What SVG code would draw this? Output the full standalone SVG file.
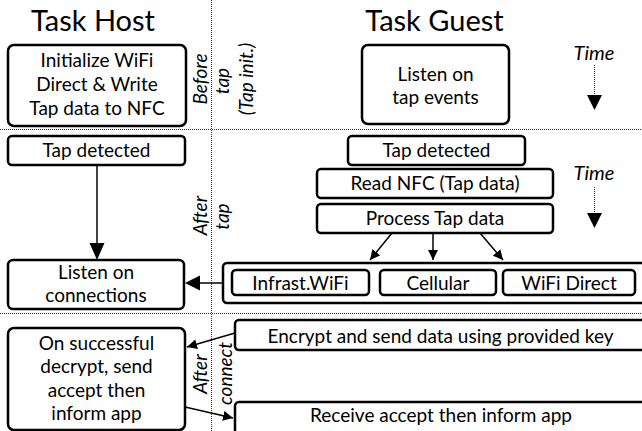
<svg xmlns="http://www.w3.org/2000/svg" width="642" height="431" viewBox="0 0 642 431">
  <style>
    .box { fill: #ffffff; stroke: #000000; stroke-width: 2.5; }
    .lbl { font-family: Lato, "Liberation Sans", sans-serif; font-size: 19px; fill: #000000; text-anchor: middle; }
    .title { font-family: Lato, "Liberation Sans", sans-serif; font-size: 29px; fill: #000000; text-anchor: middle; }
    .phase { font-family: Lato, "Liberation Sans", sans-serif; font-size: 19px; font-style: italic; fill: #000000; text-anchor: middle; }
    .time { font-family: Lato, "Liberation Sans", sans-serif; font-size: 20px; font-style: italic; fill: #000000; text-anchor: middle; }
    .sep { stroke: #333333; stroke-width: 1; stroke-dasharray: 1 1; fill: none; }
    .wire { stroke: #000000; stroke-width: 1.5; fill: none; }
    .head { fill: #000000; }
  </style>
  <defs>
    <marker id="arrow" viewBox="0 0 10 10" refX="10" refY="5" markerWidth="10" markerHeight="10" markerUnits="userSpaceOnUse" orient="auto">
      <path d="M0,0 L10,5 L0,10 Z" fill="#000000"/>
    </marker>
  </defs>
  <rect width="642" height="431" fill="#ffffff"/>

  <!-- phase separators -->
  <g id="separators">
    <line class="sep" x1="211.5" y1="0" x2="211.5" y2="431"/>
    <line class="sep" x1="0" y1="129.5" x2="642" y2="129.5"/>
    <line class="sep" x1="0" y1="313.5" x2="642" y2="313.5"/>
  </g>

  <!-- column headings -->
  <g id="titles">
    <text class="title" x="93" y="31">Task Host</text>
    <text class="title" x="434.5" y="31">Task Guest</text>
  </g>

  <!-- phase labels -->
  <g id="phase-before">
    <text class="phase" transform="translate(207,79) rotate(-90)">Before</text>
    <text class="phase" transform="translate(229,81) rotate(-90)">tap</text>
    <text class="phase" transform="translate(253,79) rotate(-90)">(Tap init.)</text>
  </g>
  <g id="phase-after-tap">
    <text class="phase" transform="translate(207,215.5) rotate(-90)">After</text>
    <text class="phase" transform="translate(229,216.5) rotate(-90)">tap</text>
  </g>
  <g id="phase-after-connect">
    <text class="phase" transform="translate(207,374) rotate(-90)">After</text>
    <text class="phase" transform="translate(232,373.5) rotate(-90)">connect</text>
  </g>

  <!-- time indicators -->
  <g id="time-1">
    <text class="time" x="594" y="60">Time</text>
    <line class="sep" x1="594.5" y1="65" x2="594.5" y2="95"/>
    <path class="head" d="M587,95 L602,95 L594.5,110 Z"/>
  </g>
  <g id="time-2">
    <text class="time" x="594" y="180">Time</text>
    <line class="sep" x1="594.5" y1="187" x2="594.5" y2="213"/>
    <path class="head" d="M587,213 L602,213 L594.5,228 Z"/>
  </g>

  <!-- host nodes -->
  <g id="host-init">
    <rect class="box" x="8" y="45" width="178" height="81" rx="6"/>
    <text class="lbl" x="97" y="67">Initialize WiFi</text>
    <text class="lbl" x="97" y="91">Direct &amp; Write</text>
    <text class="lbl" x="97" y="115">Tap data to NFC</text>
  </g>
  <g id="host-tap">
    <rect class="box" x="8" y="136" width="177" height="29" rx="4"/>
    <text class="lbl" x="96.5" y="157">Tap detected</text>
  </g>
  <g id="host-listen">
    <rect class="box" x="8" y="260" width="176" height="49" rx="5"/>
    <text class="lbl" x="96" y="279">Listen on</text>
    <text class="lbl" x="96" y="302">connections</text>
  </g>
  <g id="host-accept">
    <rect class="box" x="8" y="328" width="177" height="102" rx="6"/>
    <text class="lbl" x="96.5" y="350">On successful</text>
    <text class="lbl" x="96.5" y="373">decrypt, send</text>
    <text class="lbl" x="96.5" y="397">accept then</text>
    <text class="lbl" x="96.5" y="420">inform app</text>
  </g>

  <!-- guest nodes -->
  <g id="guest-listen">
    <rect class="box" x="362" y="45" width="147" height="79" rx="6"/>
    <text class="lbl" x="435.5" y="81">Listen on</text>
    <text class="lbl" x="435.5" y="104">tap events</text>
  </g>
  <g id="guest-tap">
    <rect class="box" x="348" y="136" width="177" height="29" rx="4"/>
    <text class="lbl" x="436.5" y="157">Tap detected</text>
  </g>
  <g id="guest-read">
    <rect class="box" x="317" y="169" width="236" height="29" rx="4"/>
    <text class="lbl" x="435" y="190">Read NFC (Tap data)</text>
  </g>
  <g id="guest-process">
    <rect class="box" x="317" y="204" width="236" height="29" rx="4"/>
    <text class="lbl" x="435" y="225">Process Tap data</text>
  </g>
  <g id="guest-links">
    <rect class="box" x="223" y="263" width="430" height="40" rx="4"/>
    <g id="link-infra">
      <rect class="box" x="232" y="270" width="137" height="25" rx="4"/>
      <text class="lbl" x="300.5" y="290">Infrast.WiFi</text>
    </g>
    <g id="link-cell">
      <rect class="box" x="380" y="270" width="116" height="25" rx="4"/>
      <text class="lbl" x="438" y="290">Cellular</text>
    </g>
    <g id="link-direct">
      <rect class="box" x="503" y="270" width="132" height="25" rx="4"/>
      <text class="lbl" x="569" y="290">WiFi Direct</text>
    </g>
  </g>
  <g id="guest-encrypt">
    <rect class="box" x="235" y="320" width="420" height="30" rx="4"/>
    <text class="lbl" x="440.5" y="343">Encrypt and send data using provided key</text>
  </g>
  <g id="guest-receive">
    <rect class="box" x="235" y="402" width="420" height="40" rx="4"/>
    <text class="lbl" x="441" y="422">Receive accept then inform app</text>
  </g>

  <!-- connectors -->
  <g id="connectors">
    <path d="M97,165 L97,243" class="wire"/>
    <path class="head" d="M89.5,243 L104.5,243 L97,260 Z"/>
    <path d="M223,283 L200,283" class="wire"/>
    <path class="head" d="M200,275.5 L200,290.5 L185,283 Z"/>
    <path d="M392,233 L370,260" class="wire" marker-end="url(#arrow)"/>
    <path d="M433,233 L433,260" class="wire" marker-end="url(#arrow)"/>
    <path d="M480,233 L503,260" class="wire" marker-end="url(#arrow)"/>
    <path d="M235,333 L187,347" class="wire" marker-end="url(#arrow)"/>
    <path d="M185,407 L233,418" class="wire" marker-end="url(#arrow)"/>
  </g>
</svg>
